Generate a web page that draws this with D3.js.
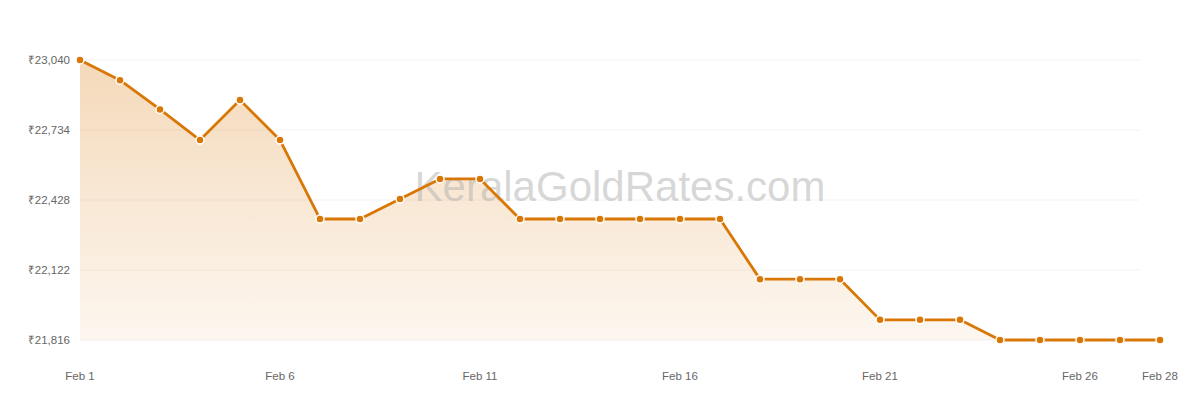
<!DOCTYPE html>
<html>
<head>
<meta charset="utf-8">
<script src="https://cdn.jsdelivr.net/npm/d3@7"></script>
<style>
  body { margin: 0; background: #fff; }
  svg { display: block; font-family: "Liberation Sans", Arial, sans-serif; }
  .tick-label { fill: #666; font-size: 11.5px; }
  .grid { stroke: #f3f3f3; stroke-width: 1; }
  .watermark { fill: #b0b0b0; fill-opacity: 0.5; font-size: 42px; }
</style>
</head>
<body>
<svg width="1200" height="400"></svg>
<script>
// data
var days = d3.range(1, 29);
var rates = [
  23040, 22952, 22824, 22690, 22865, 22690, 22345, 22345, 22432, 22520, 22520,
  22345, 22345, 22345, 22345, 22345, 22345,
  22082, 22082, 22082,
  21904, 21904, 21904,
  21816, 21816, 21816, 21816, 21816
];
var yTicks = [21816, 22122, 22428, 22734, 23040];
var xTicks = [1, 6, 11, 16, 21, 26, 28];

var svg = d3.select("svg");

var x = d3.scaleLinear().domain([1, 28]).range([80, 1160]);
var y = d3.scaleLinear().domain([21816, 23040]).range([340, 60]);

var fmt = function(v) { return "\u20b9" + d3.format(",")(v); };

// gradient for area
var defs = svg.append("defs");
var grad = defs.append("linearGradient")
.attr("id", "fillGrad")
.attr("x1", 0).attr("y1", 0).attr("x2", 0).attr("y2", 1);
grad.append("stop").attr("offset", "0%").attr("stop-color", "#d97706").attr("stop-opacity", 0.28);
grad.append("stop").attr("offset", "100%").attr("stop-color", "#d97706").attr("stop-opacity", 0.06);

// grid lines
svg.append("g").selectAll("line")
.data(yTicks)
.enter().append("line")
.attr("class", "grid")
.attr("x1", 80)
.attr("x2", 1140)
.attr("y1", function(d) { return y(d); })
.attr("y2", function(d) { return y(d); });

// y labels
svg.append("g").selectAll("text")
.data(yTicks)
.enter().append("text")
.attr("class", "tick-label")
.attr("x", 70)
.attr("y", function(d) { return y(d) + 4; })
.attr("text-anchor", "end")
.text(fmt);

// x labels
svg.append("g").selectAll("text")
.data(xTicks)
.enter().append("text")
.attr("class", "tick-label")
.attr("x", function(d) { return x(d); })
.attr("y", 380)
.attr("text-anchor", "middle")
.text(function(d) { return "Feb " + d; });

var pts = days.map(function(d, i) { return [d, rates[i]]; });

// area
svg.append("path")
.datum(pts)
.attr("fill", "url(#fillGrad)")
.attr("d", d3.area()
  .x(function(d) { return x(d[0]); })
  .y0(y(21816))
  .y1(function(d) { return y(d[1]); }));

// watermark
svg.append("text")
.attr("class", "watermark")
.attr("x", 620)
.attr("y", 201)
.attr("text-anchor", "middle")
.text("KeralaGoldRates.com");

// line
svg.append("path")
.datum(pts)
.attr("fill", "none")
.attr("stroke", "#d97706")
.attr("stroke-width", 2.8)
.attr("stroke-linejoin", "round")
.attr("d", d3.line()
  .x(function(d) { return x(d[0]); })
  .y(function(d) { return y(d[1]); }));

// points
svg.append("g").selectAll("circle")
.data(pts)
.enter().append("circle")
.attr("cx", function(d) { return x(d[0]); })
.attr("cy", function(d) { return y(d[1]); })
.attr("r", 4)
.attr("fill", "#d97706")
.attr("stroke", "#fff")
.attr("stroke-width", 1.5);
</script>
</body>
</html>
